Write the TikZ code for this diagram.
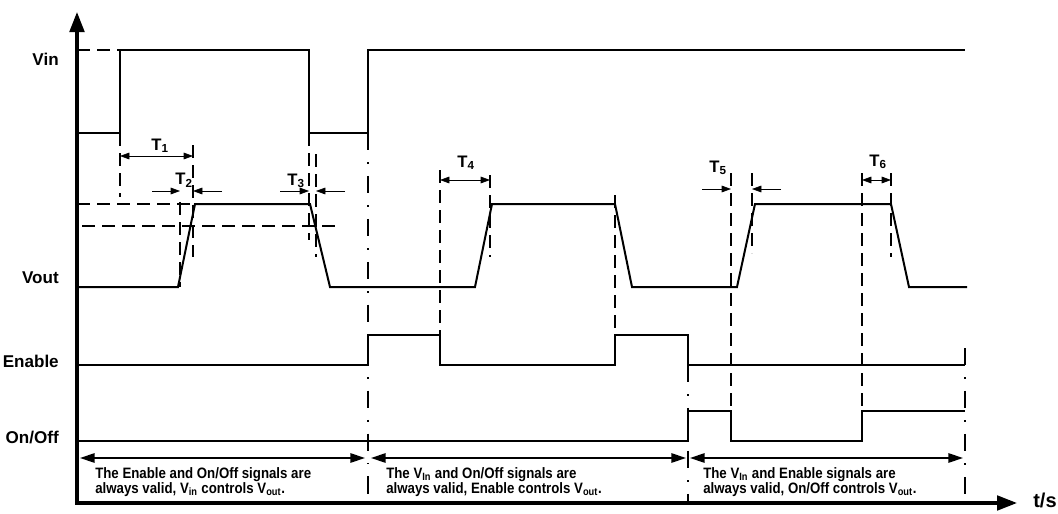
\documentclass[tikz,border=0pt]{standalone}
\usepackage{fontspec}
\setmainfont{Liberation Sans}
\newfontfamily\notefont[FakeStretch=0.88]{Liberation Sans}
\usetikzlibrary{arrows.meta}
\tikzset{
  sig/.style   = {line width=1.5pt, line join=miter},
  axis/.style  = {line width=2.3pt, -{Triangle[length=15pt,width=11pt]}},
  guide/.style = {line width=1.3pt, dash pattern=on 10pt off 5pt},
  ddot/.style  = {line width=1.1pt, dash pattern=on 13pt off 9pt on 1.2pt off 9pt},
  dim/.style   = {line width=0.5pt,
                  {Triangle[length=7pt,width=5pt]}-{Triangle[length=7pt,width=5pt]}},
  dimR/.style  = {line width=0.5pt, -{Triangle[length=7pt,width=5pt]}},
  span/.style  = {line width=1.5pt,
                  {Triangle[length=11pt,width=7pt]}-{Triangle[length=11pt,width=7pt]}},
  lbl/.style   = {font=\bfseries\fontsize{12.8}{14}\selectfont, anchor=east, inner sep=0pt},
  tl/.style    = {font=\bfseries\fontsize{12.5}{13}\selectfont, inner sep=0pt},
  note/.style  = {font=\notefont\bfseries\fontsize{11.3}{11.3}\selectfont,
                  align=left, anchor=north west, inner sep=0pt},
}

\begin{document}
\begin{tikzpicture}[x=0.75pt, y=-0.75pt]

%% canvas: 1058 x 514 px, y grows downwards
\useasboundingbox (0,0) rectangle (1058,514);

%% --- axes ---------------------------------------------------------
\draw[axis] (77,504) -- (77,12);
\draw[axis] (75,503) -- (1017,503);
\node[font=\bfseries\fontsize{15}{16}\selectfont, inner sep=0pt] (ts) at (1045,500) {t/s};

%% --- signal names -------------------------------------------------
\node[lbl] (lVin)  at (59,59)  {Vin};
\node[lbl] (lVout) at (59,278) {Vout};
\node[lbl] (lEn)   at (59,361) {Enable};
\node[lbl] (lOn)   at (59,437) {On/Off};

%% --- Vin ----------------------------------------------------------
\draw[guide] (77,50) -- (120,50);
\draw[sig] (77,133) -- (120,133) -- (120,50) -- (309,50) -- (309,133)
  -- (368,133) -- (368,50) -- (965,50);

%% --- Vout ---------------------------------------------------------
\draw[guide] (77,204) -- (190,204);
\draw[guide] (82,226) -- (336,226);
\draw[sig] (77,287) -- (178,287) -- (195,204) -- (310,204) -- (330,287)
  -- (475,287) -- (492,204) -- (615,204) -- (632,287)
  -- (737,287) -- (755,204) -- (891,204) -- (909,287) -- (967,287);

%% --- Enable -------------------------------------------------------
\draw[sig] (77,365) -- (368,365) -- (368,335) -- (440,335) -- (440,365)
  -- (615,365) -- (615,335) -- (688,335) -- (688,365) -- (965,365);

%% --- On/Off -------------------------------------------------------
\draw[sig] (77,441) -- (688,441) -- (688,411) -- (731,411) -- (731,441)
  -- (862,441) -- (862,411) -- (965,411);

%% --- phase borders (dash-dot) --------------------------------------
\draw[ddot] (368,133) -- (368,503);
\draw[ddot] (688,365) -- (688,503);
\draw[ddot] (965,348) -- (965,503);

%% --- timing guides ------------------------------------------------
\draw[guide] (120,133) -- (120,197);
\draw[guide] (193,145) -- (193,257);
\draw[guide] (180,202) -- (180,287);
\draw[guide] (309,133) -- (309,240);
\draw[guide] (316,154) -- (316,257);
\draw[guide] (440,170) -- (440,335);
\draw[guide] (490,175) -- (490,257);
\draw[guide] (615,195) -- (615,335);
\draw[guide] (731,173) -- (731,411);
\draw[guide] (752,173) -- (752,253);
\draw[guide] (862,173) -- (862,411);
\draw[guide] (891,173) -- (891,257);

%% --- T1 .. T6 -----------------------------------------------------
\draw[dim] (120,156) -- (193,156);
\node[tl] (t1) at (160,146) {T\textsubscript{1}};

\draw[dimR] (152,191) -- (180,191);
\draw[dimR] (222,191) -- (193,191);
\node[tl] (t2) at (184,180) {T\textsubscript{2}};

\draw[dimR] (280,191) -- (309,191);
\draw[dimR] (345,191) -- (316,191);
\node[tl] (t3) at (296,181) {T\textsubscript{3}};

\draw[dim] (440,180) -- (490,180);
\node[tl] (t4) at (466,163) {T\textsubscript{4}};

\draw[dimR] (702,189) -- (731,189);
\draw[dimR] (781,189) -- (752,189);
\node[tl] (t5) at (718,168) {T\textsubscript{5}};

\draw[dim] (862,180) -- (891,180);
\node[tl] (t6) at (878,162) {T\textsubscript{6}};

%% --- control phases -----------------------------------------------
\draw[span] (80,458) -- (365,458);
\draw[span] (371,458) -- (686,458);
\draw[span] (690,458) -- (963,458);

\node[note] (n1) at (95,467)
  {The Enable and On/Off signals are\\
   always valid, V\textsubscript{in} controls V\textsubscript{out}.};
\node[note] (n2) at (386,467)
  {The V\textsubscript{In} and On/Off signals are\\
   always valid, Enable controls V\textsubscript{out}.};
\node[note] (n3) at (703,467)
  {The V\textsubscript{In} and Enable signals are\\
   always valid, On/Off controls V\textsubscript{out}.};

\end{tikzpicture}
\end{document}
